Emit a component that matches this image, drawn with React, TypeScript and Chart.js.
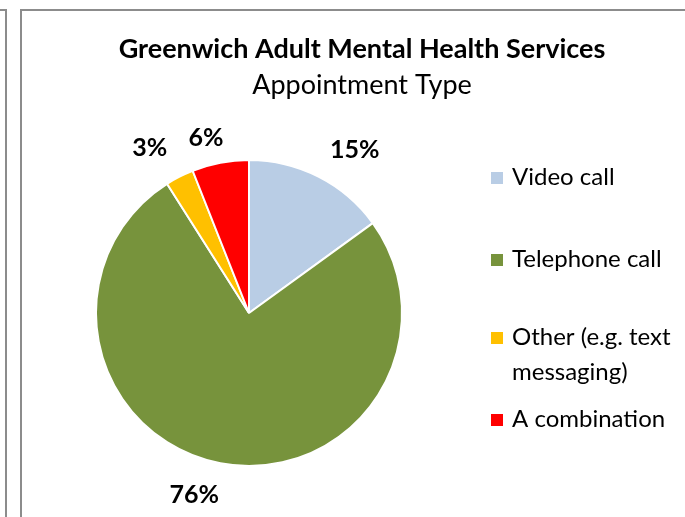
import React, { useEffect, useRef } from "react";
import { Chart, registerables } from "chart.js";

Chart.register(...registerables);

const categories = ["Video call", "Telephone call", "Other (e.g. text messaging)", "A combination"];
const legendLines = [["Video call"], ["Telephone call"], ["Other (e.g. text", "messaging)"], ["A combination"]];
const values = [15, 76, 3, 6];
const colors = ["#B9CDE5", "#77933C", "#FFC000", "#FF0000"];
const titleText = "Greenwich Adult Mental Health Services";
const subtitleText = "Appointment Type";

const FONT = "Lato, 'Open Sans', sans-serif";

// label placement tweaks (degrees, distance factor) per slice
const labelAngleNudge = [6, 6, -4, -3];
const labelDist = [1.27, 1.24, 1.26, 1.18];

const overlay = {
  id: "overlay",
  afterDraw(chart: any) {
    const ctx = chart.ctx as CanvasRenderingContext2D;
    ctx.save();
    // frames
    ctx.strokeStyle = "#8C8C8C";
    ctx.lineWidth = 2;
    ctx.beginPath();
    ctx.moveTo(0, 10);
    ctx.lineTo(6, 10);
    ctx.lineTo(6, 517);
    ctx.moveTo(21, 517);
    ctx.lineTo(21, 10);
    ctx.lineTo(685, 10);
    ctx.stroke();

    // title
    ctx.fillStyle = "#000";
    ctx.textAlign = "center";
    ctx.textBaseline = "alphabetic";
    ctx.font = `bold 27px ${FONT}`;
    ctx.fillText(titleText, 362, 58);
    ctx.font = `27px ${FONT}`;
    ctx.fillText(subtitleText, 362, 94);

    // legend
    const baselines = [185, 267, 345, 427];
    ctx.textAlign = "left";
    ctx.font = `24px ${FONT}`;
    legendLines.forEach((lines, i) => {
      ctx.fillStyle = colors[i];
      ctx.fillRect(491, baselines[i] - 13, 12, 12);
      ctx.fillStyle = "#000";
      lines.forEach((l, j) => ctx.fillText(l, 512, baselines[i] + j * 35));
    });

    // data labels
    const meta = chart.getDatasetMeta(0);
    const total = values.reduce((a, b) => a + b, 0);
    ctx.font = `bold 25px ${FONT}`;
    ctx.textAlign = "center";
    ctx.textBaseline = "middle";
    meta.data.forEach((arc: any, i: number) => {
      const mid = (arc.startAngle + arc.endAngle) / 2 + (labelAngleNudge[i] * Math.PI) / 180;
      const r = arc.outerRadius * labelDist[i];
      const x = arc.x + Math.cos(mid) * r;
      const y = arc.y + Math.sin(mid) * r;
      ctx.fillText(Math.round((values[i] / total) * 100) + "%", x, y);
    });
    ctx.restore();
  },
};

export default function App() {
  const ref = useRef<HTMLCanvasElement>(null);
  useEffect(() => {
    if (!ref.current) return;
    const chart = new Chart(ref.current, {
      type: "pie",
      data: {
        labels: categories,
        datasets: [
          {
            data: values,
            backgroundColor: colors,
            borderColor: "#FFFFFF",
            borderWidth: 2,
            hoverOffset: 0,
          },
        ],
      },
      options: {
        responsive: false,
        animation: false,
        radius: 153,
        layout: { padding: { left: 96, right: 283, top: 160, bottom: 51 } },
        plugins: {
          legend: { display: false },
          title: { display: false },
          tooltip: { enabled: false },
        },
      } as any,
      plugins: [overlay],
    });
    return () => chart.destroy();
  }, []);
  return (
    <div style={{ position: "absolute", left: 0, top: 0, width: 685, height: 517, background: "#fff" }}>
      <canvas ref={ref} width={685} height={517} style={{ display: "block" }} />
    </div>
  );
}
